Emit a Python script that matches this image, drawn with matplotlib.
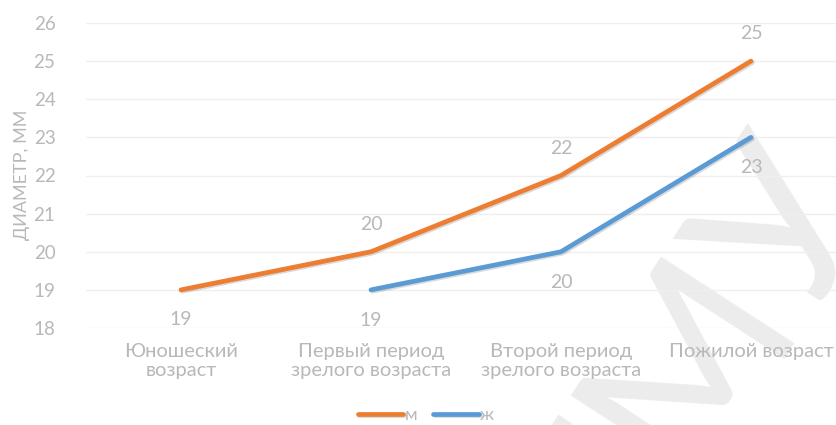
import matplotlib
matplotlib.use('Agg')
import matplotlib.pyplot as plt
import matplotlib.patheffects as pe

# data
categories = ['Юношеский\nвозраст', 'Первый период\nзрелого возраста',
              'Второй период\nзрелого возраста', 'Пожилой возраст']
men = [19, 20, 22, 25]
women_x = [1, 2, 3]
women = [19, 20, 23]
men_label_pos = ['below', 'above', 'above', 'above']
yticks = [18, 19, 20, 21, 22, 23, 24, 25, 26]

orange = '#ED7D31'
blue = '#5B9BD5'
gray = '#b8b8b8'

plt.rcParams['font.family'] = ['Lato', 'DejaVu Sans']

fig = plt.figure(figsize=(8.36, 4.25), dpi=100)
ax = fig.add_axes([86 / 836, 1 - 328 / 425, 760 / 836, 305 / 425])
ax.set_zorder(1)

# watermark behind the chart
fig.text(0.83, 0.17, 'ГМУ', fontsize=160, color='#ececec', rotation=57,
         ha='center', va='center', zorder=-5)

shadow = [pe.SimpleLineShadow(offset=(1, -1), alpha=0.15), pe.Normal()]
ax.plot(range(len(men)), men, color=orange, lw=3.4, solid_capstyle='round',
        label='м', path_effects=shadow, zorder=3)
ax.plot(women_x, women, color=blue, lw=3.4, solid_capstyle='round',
        label='ж', path_effects=shadow, zorder=3)

for i, v in enumerate(men):
    dy = 0.72 if men_label_pos[i] == 'above' else -0.78
    ax.text(i, v + dy, str(v), ha='center', va='center', fontsize=14, color=gray)
for i, v in zip(women_x, women):
    ax.text(i, v - 0.8, str(v), ha='center', va='center', fontsize=14, color=gray)

ax.set_xlim(-0.5, 3.5)
ax.set_ylim(18, 26)
ax.set_yticks(yticks)
ax.set_xticks(range(len(categories)))
ax.set_xticklabels(categories, fontsize=14.5, color=gray, linespacing=1.15)
ax.tick_params(axis='y', labelsize=13.5, labelcolor=gray, length=0, pad=22)
ax.tick_params(axis='x', length=0, pad=11)
ax.grid(axis='y', color='#efefef', lw=1)
ax.set_axisbelow(True)
for s in ax.spines.values():
    s.set_visible(False)
ax.patch.set_alpha(0)

fig.text(22 / 836, 1 - 175 / 425, 'ДИАМЕТР, ММ', rotation=90, fontsize=13,
         color=gray, ha='center', va='center')

fig.legend(loc='center', bbox_to_anchor=(426 / 836, 1 - 415 / 425), ncol=2,
           frameon=False, fontsize=13, labelcolor=gray, handlelength=2.5,
           handletextpad=0.1, columnspacing=0.9)

fig.savefig('out.png', dpi=100)
